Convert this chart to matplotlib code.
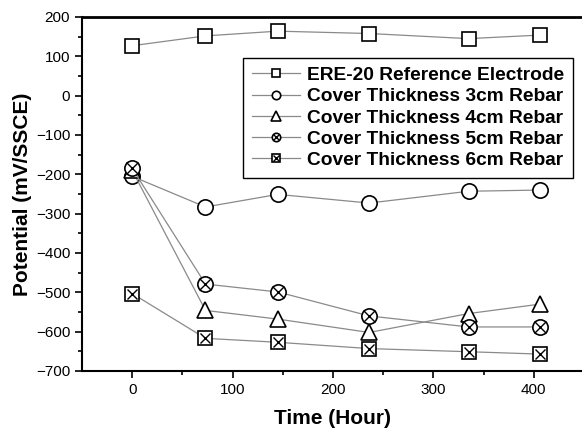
import matplotlib.pyplot as plt

plt.rcParams['font.family'] = ['Liberation Sans', 'DejaVu Sans']

# Time (hours) and potentials (mV/SSCE)
hours = [0, 73, 145, 236, 335, 406]
ere20 = [127, 152, 164, 158, 145, 154]
cover_3cm = [-205, -283, -251, -273, -243, -240]
cover_4cm = [-190, -546, -568, -602, -554, -530]
cover_5cm = [-185, -479, -499, -560, -588, -588]
cover_6cm = [-503, -617, -627, -643, -651, -657]

labels = ["ERE-20 Reference Electrode", "Cover Thickness 3cm Rebar",
          "Cover Thickness 4cm Rebar", "Cover Thickness 5cm Rebar",
          "Cover Thickness 6cm Rebar"]

fig = plt.figure(figsize=(5.82, 4.28), dpi=100)
ax = fig.add_axes([82 / 582, 57 / 428, 502 / 582, 354 / 428])

line_kw = dict(color='#8a8a8a', lw=0.9, mfc='white', mec='black', mew=1.2)

h1, = ax.plot(hours, ere20, marker='s', ms=10, **line_kw)
h2, = ax.plot(hours, cover_3cm, marker='o', ms=11, **line_kw)
h3, = ax.plot(hours, cover_4cm, marker='^', ms=12, **line_kw)
h4a, = ax.plot(hours, cover_5cm, marker='o', ms=11, **line_kw)
h4b, = ax.plot(hours, cover_5cm, marker='x', ms=8, ls='none', mec='black', mew=1.0)
h5a, = ax.plot(hours, cover_6cm, marker='s', ms=10, **line_kw)
h5b, = ax.plot(hours, cover_6cm, marker='x', ms=7, ls='none', mec='black', mew=1.0)

leg = ax.legend([h1, h2, h3, (h4a, h4b), (h5a, h5b)], labels,
                loc='upper right', bbox_to_anchor=(0.978, 0.884),
                borderaxespad=0,
                markerscale=0.55, handlelength=2.5, handletextpad=0.4,
                labelspacing=0.2, borderpad=0.45, fancybox=False,
                framealpha=1, edgecolor='black',
                prop=dict(weight='bold', size=13.8))
leg.get_frame().set_linewidth(1.0)

ax.set_xlim(-50, 450)
ax.set_ylim(-700, 200)
ax.set_xticks([0, 100, 200, 300, 400])
ax.set_xticks([50, 150, 250, 350], minor=True)
ax.set_yticks(range(-700, 201, 100))
ax.set_yticks(range(-650, 200, 100), minor=True)
ax.tick_params(labelsize=11, width=1.2, length=5)
ax.tick_params(which='minor', width=1.2, length=3)

ax.spines['right'].set_visible(False)
ax.spines['top'].set_linewidth(2)
ax.spines['left'].set_linewidth(1.5)
ax.spines['bottom'].set_linewidth(1.5)

ax.set_xlabel('Time (Hour)', fontsize=15, fontweight='bold', labelpad=9)
ax.set_ylabel('Potential (mV/SSCE)', fontsize=15, fontweight='bold', labelpad=3)

fig.savefig('out.png', dpi=100)
